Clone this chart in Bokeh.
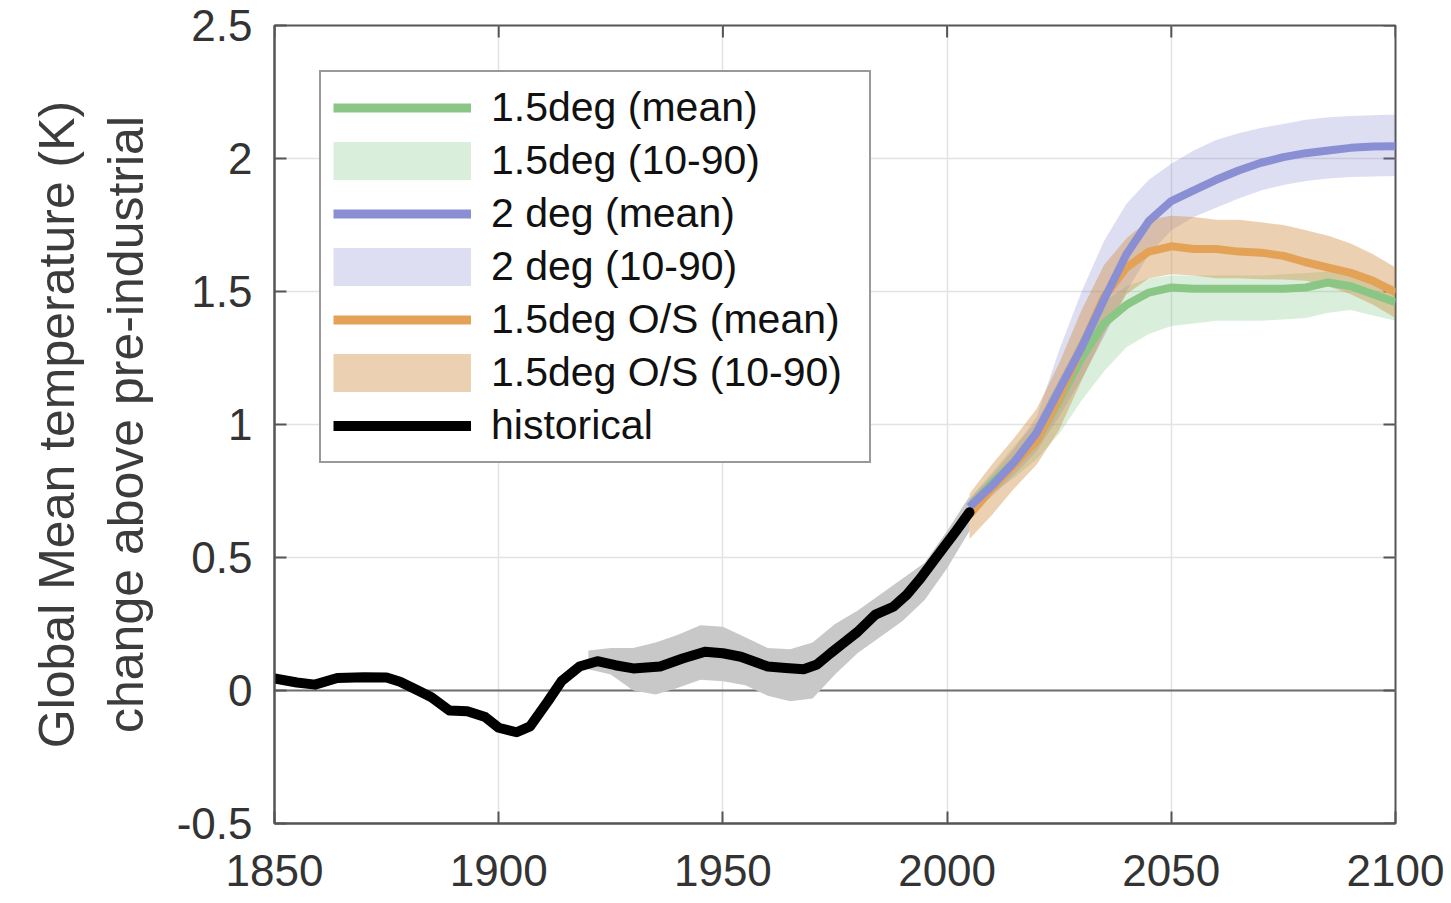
from bokeh.plotting import figure
from bokeh.models import (Range1d, FixedTicker, NumeralTickFormatter,
                          Span, Legend, LegendItem)
from bokeh.embed import file_html
from bokeh.resources import INLINE

# ---------------- data ----------------
hist_year = [1850, 1855, 1859, 1864, 1870, 1875, 1878, 1882, 1885, 1889, 1893, 1897,
             1900, 1904, 1907, 1911, 1914, 1918, 1922, 1926, 1930, 1936, 1941, 1946,
             1950, 1954, 1960, 1964, 1968, 1971, 1974, 1977, 1980, 1984, 1988, 1991,
             1994, 1998, 2002, 2005]
hist_temp = [0.045, 0.03, 0.022, 0.047, 0.05, 0.049, 0.033, 0.0, -0.025, -0.075, -0.078, -0.10,
             -0.14, -0.157, -0.135, -0.04, 0.035, 0.09, 0.11, 0.095, 0.083, 0.09, 0.12, 0.146,
             0.14, 0.127, 0.09, 0.085, 0.08, 0.098, 0.14, 0.18, 0.22, 0.285, 0.315, 0.36,
             0.42, 0.51, 0.60, 0.67]

band_year = [1920, 1925, 1930, 1935, 1940, 1945, 1950, 1955, 1960, 1965, 1970, 1975,
             1980, 1985, 1990, 1995, 2000, 2005]
hist_hi = [0.15, 0.16, 0.16, 0.18, 0.21, 0.245, 0.24, 0.20, 0.16, 0.155, 0.18, 0.25,
           0.30, 0.36, 0.42, 0.48, 0.60, 0.73]
hist_lo = [0.08, 0.06, 0.0, -0.015, 0.01, 0.04, 0.035, 0.02, -0.02, -0.04, -0.03, 0.06,
           0.14, 0.20, 0.26, 0.34, 0.46, 0.60]

scen_year = [2005, 2010, 2015, 2020, 2025, 2030, 2035, 2040, 2045, 2050,
             2055, 2060, 2065, 2070, 2075, 2080, 2085, 2090, 2095, 2100]

blue_mean = [0.69, 0.77, 0.86, 0.97, 1.13, 1.29, 1.47, 1.64, 1.765, 1.84,
             1.88, 1.92, 1.955, 1.984, 2.005, 2.02, 2.03, 2.04, 2.045, 2.046]
blue_hi = [0.72, 0.81, 0.91, 1.03, 1.28, 1.50, 1.69, 1.83, 1.92, 1.98,
           2.03, 2.07, 2.095, 2.115, 2.13, 2.146, 2.155, 2.16, 2.163, 2.165]
blue_lo = [0.66, 0.73, 0.81, 0.90, 1.03, 1.17, 1.33, 1.50, 1.64, 1.73,
           1.78, 1.815, 1.85, 1.88, 1.90, 1.915, 1.925, 1.93, 1.932, 1.934]

orange_mean = [0.66, 0.76, 0.85, 0.94, 1.10, 1.29, 1.48, 1.59, 1.65, 1.67,
               1.66, 1.66, 1.65, 1.646, 1.634, 1.61, 1.59, 1.57, 1.54, 1.496]
orange_hi = [0.74, 0.85, 0.95, 1.06, 1.23, 1.43, 1.60, 1.70, 1.77, 1.785,
             1.78, 1.77, 1.77, 1.76, 1.75, 1.73, 1.71, 1.68, 1.64, 1.59]
orange_lo = [0.57, 0.66, 0.76, 0.85, 0.98, 1.165, 1.34, 1.49, 1.55, 1.565,
             1.56, 1.55, 1.55, 1.546, 1.545, 1.54, 1.52, 1.49, 1.45, 1.40]

green_mean = [0.69, 0.78, 0.86, 0.94, 1.09, 1.25, 1.38, 1.45, 1.496, 1.515,
              1.51, 1.51, 1.51, 1.51, 1.51, 1.515, 1.534, 1.52, 1.49, 1.46]
green_hi = [0.72, 0.82, 0.92, 1.01, 1.17, 1.33, 1.46, 1.52, 1.55, 1.56,
            1.56, 1.56, 1.56, 1.56, 1.565, 1.57, 1.575, 1.57, 1.55, 1.52]
green_lo = [0.66, 0.74, 0.80, 0.87, 0.965, 1.09, 1.20, 1.29, 1.34, 1.37,
            1.38, 1.39, 1.39, 1.39, 1.395, 1.40, 1.42, 1.43, 1.41, 1.39]

x_ticks = [1850, 1900, 1950, 2000, 2050, 2100]
y_ticks = [-0.5, 0, 0.5, 1, 1.5, 2, 2.5]

labels = ["1.5deg (mean)", "1.5deg (10-90)", "2 deg (mean)", "2 deg (10-90)",
          "1.5deg O/S (mean)", "1.5deg O/S (10-90)", "historical"]

# ---------------- styles ----------------
FONT = "Liberation Sans"
GREEN, GREEN_BAND = "#8ac787", "#6cc070"
BLUE, BLUE_BAND = "#8a8fd4", "#7a7ad0"
ORANGE, ORANGE_BAND = "#e3a256", "#d08f45"
GREY_BAND = "#c8c8c8"
AXIS_COL = "#555555"

W, H = 1451, 903
BL, BR, BT, BB = 274, 56, 25, 80
X0, X1, Y0, Y1 = 1850, 2100, -0.5, 2.5
TICK_PX = 12

p = figure(width=W, height=H, output_backend="svg", toolbar_location=None,
           x_range=Range1d(X0, X1), y_range=Range1d(Y0, Y1),
           min_border_left=BL, min_border_right=BR, min_border_top=BT,
           min_border_bottom=BB, background_fill_color="white",
           border_fill_color="white")
p.outline_line_color = AXIS_COL
p.outline_line_width = 2

p.xaxis.ticker = FixedTicker(ticks=x_ticks)
p.yaxis.ticker = FixedTicker(ticks=y_ticks)
p.yaxis.formatter = NumeralTickFormatter(format="0.[0]")
for ax in (p.xaxis[0], p.yaxis[0]):
    ax.axis_line_color = AXIS_COL
    ax.axis_line_width = 2
    ax.major_tick_line_color = AXIS_COL
    ax.major_tick_line_width = 2
    ax.major_tick_in = TICK_PX
    ax.major_tick_out = 0
    ax.minor_tick_line_color = None
    ax.major_label_text_font = FONT
    ax.major_label_text_font_size = "44px"
    ax.major_label_text_color = "#333333"
p.xaxis.major_label_standoff = 31
p.yaxis.major_label_standoff = 22
p.yaxis.axis_label = "Global Mean temperature (K)\nchange above pre-industrial"
p.yaxis.axis_label_text_font = FONT
p.yaxis.axis_label_text_font_size = "50px"
p.yaxis.axis_label_text_font_style = "normal"
p.yaxis.axis_label_text_color = "#3c3c3c"
p.yaxis.axis_label_text_line_height = 1.23
p.yaxis.axis_label_standoff = 20

p.xgrid.ticker = FixedTicker(ticks=x_ticks)
p.ygrid.ticker = FixedTicker(ticks=y_ticks)
p.grid.grid_line_color = "#e3e3e3"
p.grid.grid_line_width = 1.5

p.add_layout(Span(location=0, dimension="width", line_color="#6e6e6e",
                  line_width=2, level="underlay"))

# mirrored inward ticks on the right and top edges (box on)
frame_w = W - BL - BR
frame_h = H - BT - BB
dx = (X1 - X0) * TICK_PX / frame_w
dy = (Y1 - Y0) * TICK_PX / frame_h
p.segment(x0=[X1] * len(y_ticks), y0=y_ticks, x1=[X1 - dx] * len(y_ticks), y1=y_ticks,
          line_color=AXIS_COL, line_width=2)
p.segment(x0=x_ticks, y0=[Y1] * len(x_ticks), x1=x_ticks, y1=[Y1 - dy] * len(x_ticks),
          line_color=AXIS_COL, line_width=2)

# bands
p.varea(x=band_year, y1=hist_lo, y2=hist_hi, fill_color=GREY_BAND, fill_alpha=1)
p.varea(x=scen_year, y1=green_lo, y2=green_hi, fill_color=GREEN_BAND, fill_alpha=0.25)
p.varea(x=scen_year, y1=blue_lo, y2=blue_hi, fill_color=BLUE_BAND, fill_alpha=0.25)
p.varea(x=scen_year, y1=orange_lo, y2=orange_hi, fill_color=ORANGE_BAND, fill_alpha=0.42)

# lines
lg = p.line(scen_year, green_mean, line_color=GREEN, line_width=8, line_join="round")
lo = p.line(scen_year, orange_mean, line_color=ORANGE, line_width=8, line_join="round")
lb = p.line(scen_year, blue_mean, line_color=BLUE, line_width=8, line_join="round")
lh = p.line(hist_year, hist_temp, line_color="black", line_width=10,
            line_join="round", line_cap="round")

# legend proxies (NaN data: nothing drawn in the plot)
nan = float("nan")
pg = p.line([nan], [nan], line_color=GREEN_BAND, line_alpha=0.25, line_width=38)
pb = p.line([nan], [nan], line_color=BLUE_BAND, line_alpha=0.25, line_width=38)
po = p.line([nan], [nan], line_color=ORANGE_BAND, line_alpha=0.42, line_width=38)
lgp = p.line([nan], [nan], line_color=GREEN, line_width=9)
lbp = p.line([nan], [nan], line_color=BLUE, line_width=9)
lop = p.line([nan], [nan], line_color=ORANGE, line_width=9)
lhp = p.line([nan], [nan], line_color="black", line_width=10)

legend = Legend(items=[LegendItem(label=labels[0], renderers=[lgp]),
                       LegendItem(label=labels[1], renderers=[pg]),
                       LegendItem(label=labels[2], renderers=[lbp]),
                       LegendItem(label=labels[3], renderers=[pb]),
                       LegendItem(label=labels[4], renderers=[lop]),
                       LegendItem(label=labels[5], renderers=[po]),
                       LegendItem(label=labels[6], renderers=[lhp])],
                location="top_left", margin=45, padding=12, spacing=6,
                label_height=47, glyph_height=47, glyph_width=138,
                label_standoff=20, label_width=366,
                label_text_font=FONT, label_text_font_size="41px",
                label_text_color="#111111",
                border_line_color="#333333", border_line_width=2,
                background_fill_color="white", background_fill_alpha=1)
p.add_layout(legend)

open("out.html", "w").write(file_html(p, INLINE))
